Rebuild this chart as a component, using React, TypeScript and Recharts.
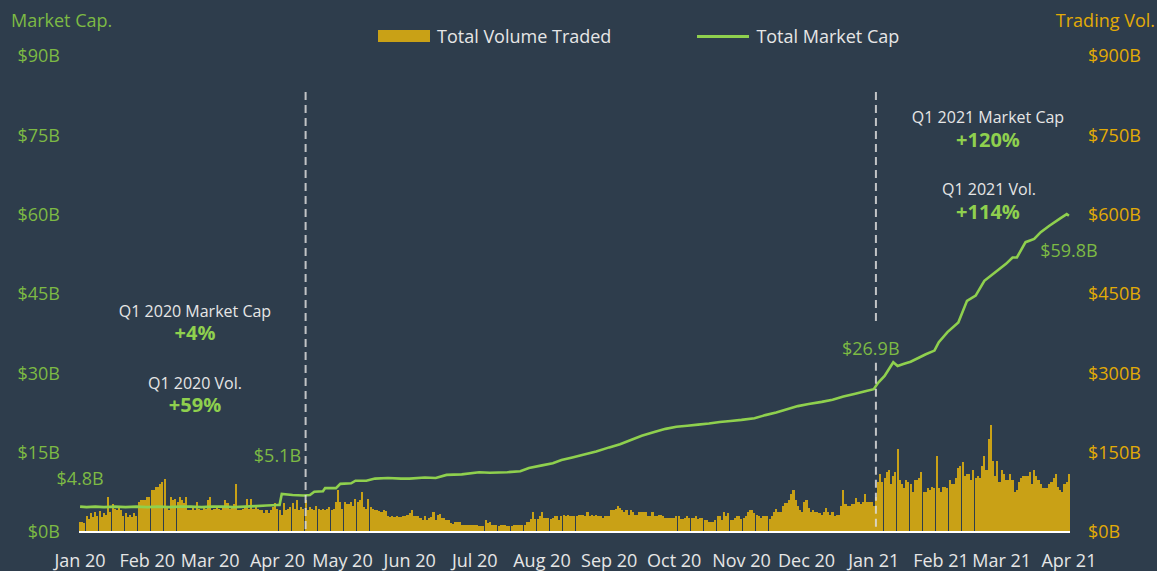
import React from 'react'
import {
  ComposedChart, Bar, Line, XAxis, YAxis, Legend, ReferenceLine, ReferenceDot,
} from 'recharts'

// daily traded volume, $B (right axis)
const volJan20 = [19, 19, 17, 30, 25, 35, 28, 38, 30, 40, 28, 35, 33, 67, 38, 52, 44, 41, 47, 42, 30, 35, 28, 33, 28, 35, 30, 57, 60, 61, 61]
const volFeb20 = [67, 66, 79, 80, 86, 86, 90, 94, 101, 47, 41, 67, 60, 63, 57, 67, 60, 54, 67, 41, 41, 47, 41, 57, 44, 41, 49, 44, 60]
const volMar20 = [67, 41, 44, 47, 44, 41, 47, 60, 54, 44, 47, 52, 91, 41, 41, 44, 47, 63, 44, 63, 44, 47, 44, 41, 41, 35, 41, 35, 41, 47, 54]
const volApr20 = [44, 41, 32, 54, 41, 44, 47, 54, 44, 60, 41, 47, 44, 60, 41, 47, 44, 41, 49, 44, 41, 44, 41, 44, 47, 41, 44, 57, 79, 57]
const volMay20 = [44, 57, 52, 52, 57, 50, 63, 57, 60, 76, 47, 44, 63, 47, 44, 41, 41, 40, 38, 41, 40, 30, 28, 30, 28, 30, 28, 28, 30, 30, 33]
const volJun20 = [36, 41, 31, 31, 30, 26, 23, 31, 23, 26, 29, 37, 23, 32, 34, 26, 27, 22, 22, 17, 16, 19, 19, 19, 14, 14, 14, 14, 14, 14]
const volJul20 = [14, 14, 11, 11, 11, 22, 17, 19, 14, 14, 14, 11, 14, 14, 14, 11, 11, 11, 14, 14, 14, 14, 14, 14, 19, 19, 25, 38, 25, 25, 30]
const volAug20 = [38, 27, 27, 27, 25, 27, 30, 30, 23, 30, 33, 30, 33, 30, 30, 30, 30, 33, 33, 33, 30, 38, 30, 33, 30, 33, 30, 30, 27, 30, 30]
const volSep20 = [30, 42, 42, 44, 49, 46, 42, 38, 41, 33, 41, 38, 33, 33, 38, 38, 38, 38, 30, 30, 38, 30, 30, 33, 33, 30, 27, 27, 27, 27]
const volOct20 = [27, 30, 30, 25, 25, 27, 30, 27, 27, 27, 30, 25, 27, 27, 23, 23, 19, 19, 19, 23, 30, 30, 23, 38, 30, 35, 23, 23, 27, 30, 30]
const volNov20 = [25, 27, 30, 38, 41, 41, 35, 33, 30, 27, 30, 30, 30, 25, 30, 38, 44, 38, 38, 50, 55, 55, 60, 71, 79, 60, 49, 41, 38, 57]
const volDec20 = [60, 46, 38, 41, 38, 38, 35, 32, 38, 46, 38, 33, 38, 30, 33, 33, 49, 79, 52, 49, 49, 52, 52, 64, 57, 52, 57, 71, 57, 57, 57]
const volJan21 = [49, 67, 95, 109, 95, 102, 113, 118, 91, 105, 113, 156, 98, 91, 84, 98, 95, 91, 76, 98, 98, 102, 113, 76, 76, 84, 80, 86, 84, 143, 84]
const volFeb21 = [76, 86, 86, 84, 98, 91, 91, 102, 121, 124, 132, 105, 109, 109, 98, 117, 102, 105, 102, 124, 143, 118, 176, 203, 135, 105, 135, 95]
const volMar21 = [117, 109, 98, 98, 109, 98, 76, 79, 95, 102, 105, 105, 105, 113, 91, 117, 105, 98, 90, 84, 84, 84, 91, 95, 102, 109, 86, 80, 76, 91, 95]
const volApr21 = [109]

const months: [string, number[]][] = [
  ['2020-01', volJan20], ['2020-02', volFeb20], ['2020-03', volMar20], ['2020-04', volApr20],
  ['2020-05', volMay20], ['2020-06', volJun20], ['2020-07', volJul20], ['2020-08', volAug20],
  ['2020-09', volSep20], ['2020-10', volOct20], ['2020-11', volNov20], ['2020-12', volDec20],
  ['2021-01', volJan21], ['2021-02', volFeb21], ['2021-03', volMar21], ['2021-04', volApr21],
]

// total market cap, $B (left axis)
const capPoints: [string, number][] = [
  ['2020-01-01', 4.8], ['2020-01-04', 4.7], ['2020-01-08', 4.8], ['2020-01-12', 4.7], ['2020-01-17', 4.8],
  ['2020-01-22', 4.7], ['2020-01-27', 4.8], ['2020-02-01', 4.7], ['2020-02-06', 4.8], ['2020-02-11', 4.7],
  ['2020-02-16', 4.8], ['2020-02-21', 4.8], ['2020-02-26', 4.7], ['2020-03-02', 4.8], ['2020-03-07', 4.8],
  ['2020-03-12', 4.7], ['2020-03-17', 4.8], ['2020-03-22', 4.9], ['2020-03-27', 5.0], ['2020-04-01', 5.1],
  ['2020-04-02', 5.1], ['2020-04-03', 7.2], ['2020-04-08', 7.0], ['2020-04-13', 6.9], ['2020-04-16', 7.0],
  ['2020-04-18', 7.6], ['2020-04-22', 7.7], ['2020-04-23', 8.3], ['2020-04-28', 8.3], ['2020-04-30', 9.1],
  ['2020-05-05', 9.2], ['2020-05-07', 9.7], ['2020-05-12', 9.7], ['2020-05-16', 10.1], ['2020-05-22', 10.2],
  ['2020-05-28', 10.1], ['2020-06-01', 10.1], ['2020-06-08', 10.3], ['2020-06-13', 10.2], ['2020-06-18', 10.8],
  ['2020-06-25', 10.9], ['2020-07-03', 11.3], ['2020-07-08', 11.2], ['2020-07-16', 11.3], ['2020-07-22', 11.5],
  ['2020-07-26', 12.1], ['2020-08-01', 12.6], ['2020-08-06', 13.0], ['2020-08-10', 13.6], ['2020-08-15', 14.1],
  ['2020-08-20', 14.6], ['2020-08-26', 15.2], ['2020-09-01', 16.0], ['2020-09-06', 16.6], ['2020-09-11', 17.4],
  ['2020-09-16', 18.2], ['2020-09-21', 18.8], ['2020-09-27', 19.5], ['2020-10-02', 19.9], ['2020-10-07', 20.1],
  ['2020-10-12', 20.3], ['2020-10-17', 20.5], ['2020-10-22', 20.8], ['2020-10-27', 21.0], ['2020-11-01', 21.2],
  ['2020-11-07', 21.5], ['2020-11-12', 22.1], ['2020-11-17', 22.6], ['2020-11-22', 23.2], ['2020-11-27', 23.8],
  ['2020-12-02', 24.2], ['2020-12-08', 24.6], ['2020-12-13', 25.0], ['2020-12-18', 25.6], ['2020-12-23', 26.1],
  ['2020-12-29', 26.7], ['2021-01-01', 27.0], ['2021-01-03', 28.2], ['2021-01-06', 29.5], ['2021-01-10', 32.1],
  ['2021-01-12', 31.4], ['2021-01-15', 31.8], ['2021-01-18', 32.2], ['2021-01-22', 33.0], ['2021-01-25', 33.6],
  ['2021-01-29', 34.3], ['2021-01-31', 35.9], ['2021-02-04', 37.8], ['2021-02-09', 39.6], ['2021-02-13', 43.7],
  ['2021-02-17', 44.7], ['2021-02-21', 47.5], ['2021-02-25', 48.8], ['2021-03-03', 50.7], ['2021-03-06', 51.9],
  ['2021-03-08', 51.9], ['2021-03-12', 54.8], ['2021-03-16', 55.4], ['2021-03-19', 56.7], ['2021-03-23', 57.9],
  ['2021-03-28', 59.3], ['2021-03-31', 60.1], ['2021-04-01', 59.8],
]

const capTicks = [0, 15, 30, 45, 60, 75, 90]
const volTicks = [0, 150, 300, 450, 600, 750, 900]
const monthNames = ['Jan', 'Feb', 'Mar', 'Apr', 'May', 'Jun', 'Jul', 'Aug', 'Sep', 'Oct', 'Nov', 'Dec']

const BG = '#2e3d4c'
const BAR = '#c9a116'
const LINE = '#8fd04e'
const GREEN = '#7dba44'
const GOLD = '#e3ab06'
const TEXT = '#e6e6e6'
const FONT = '"Open Sans", sans-serif'

const capMap = new Map(capPoints)
const rows = months.flatMap(([m, vols]) =>
  vols.map((v, i) => {
    const date = `${m}-${String(i + 1).padStart(2, '0')}`
    return { date, vol: v, cap: capMap.get(date) }
  })
)
const monthTicks = months.map(([m]) => `${m}-01`)
const fmtMonth = (d: string) => `${monthNames[+d.slice(5, 7) - 1]} ${d.slice(2, 4)}`

const ValueLabel = ({ viewBox, text, dx = 0, dy = 0 }: any) => {
  const cx = viewBox.x + viewBox.width / 2
  const cy = viewBox.y + viewBox.height / 2
  return (
    <text x={cx + dx} y={cy + dy} textAnchor="middle" fill={GREEN} fontSize={18} fontFamily={FONT}>
      {text}
    </text>
  )
}

const renderLegend = () => (
  <div style={{ display: 'flex', alignItems: 'center', fontSize: 18, color: TEXT, fontFamily: FONT, whiteSpace: 'nowrap' }}>
    <span style={{ display: 'inline-block', width: 52, height: 12, background: BAR }} />
    <span style={{ marginLeft: 7 }}>Total Volume Traded</span>
    <span style={{ display: 'inline-block', width: 52, height: 3, background: LINE, marginLeft: 86 }} />
    <span style={{ marginLeft: 7 }}>Total Market Cap</span>
  </div>
)

const dash = { stroke: '#dcdcdc', strokeDasharray: '8 5', strokeWidth: 2, strokeOpacity: 0.85 }

export default function App() {
  return (
    <div style={{ position: 'absolute', left: 0, top: 0, width: 1157, height: 571, background: BG, fontFamily: FONT }}>
      <ComposedChart width={1157} height={571} data={rows} margin={{ top: 56, right: 0, bottom: 0, left: 0 }}
        barCategoryGap={0} barGap={0}>
        <XAxis dataKey="date" ticks={monthTicks} interval={0} tickFormatter={fmtMonth}
          axisLine={{ stroke: '#ffffff', strokeWidth: 2 }} tickLine={false} tickSize={0} tickMargin={22}
          height={39} tick={{ fill: TEXT, fontSize: 18, fontFamily: FONT }} />
        <YAxis yAxisId="cap" orientation="left" domain={[0, 90]} ticks={capTicks} width={79}
          axisLine={false} tickLine={false} tickSize={0} tickMargin={19}
          tickFormatter={(v) => `$${v}B`} tick={{ fill: GREEN, fontSize: 18, fontFamily: FONT }} />
        <YAxis yAxisId="vol" orientation="right" domain={[0, 900]} ticks={volTicks} width={87}
          axisLine={false} tickLine={false} tickSize={0} tickMargin={18}
          tickFormatter={(v) => `$${v}B`} tick={{ fill: GOLD, fontSize: 18, fontFamily: FONT, textAnchor: 'start' }} />
        <Legend verticalAlign="middle" content={renderLegend}
          wrapperStyle={{ top: 24, left: 378, width: 'auto', height: 'auto' }} />
        <Bar yAxisId="vol" dataKey="vol" fill={BAR} barSize={2.08} shapeRendering="crispEdges" isAnimationActive={false} />
        <Line yAxisId="cap" dataKey="cap" type="linear" stroke={LINE} strokeWidth={2.6} dot={false}
          connectNulls isAnimationActive={false} />
        <ReferenceLine yAxisId="cap" segment={[{ x: '2020-04-14', y: 83.2 }, { x: '2020-04-14', y: 0 }]} {...dash} />
        <ReferenceLine yAxisId="cap" segment={[{ x: '2021-01-02', y: 83.2 }, { x: '2021-01-02', y: 39.5 }]} {...dash} />
        <ReferenceLine yAxisId="cap" segment={[{ x: '2021-01-02', y: 32.0 }, { x: '2021-01-02', y: 0 }]} {...dash} />
        <ReferenceDot yAxisId="cap" x="2020-01-01" y={4.8} r={1} fill="none" stroke="none"
          label={<ValueLabel text="$4.8B" dy={-22} />} />
        <ReferenceDot yAxisId="cap" x="2020-04-01" y={5.1} r={1} fill="none" stroke="none"
          label={<ValueLabel text="$5.1B" dy={-43.5} />} />
        <ReferenceDot yAxisId="cap" x="2021-01-01" y={27.0} r={1} fill="none" stroke="none"
          label={<ValueLabel text="$26.9B" dx={-3} dy={-34} />} />
        <ReferenceDot yAxisId="cap" x="2021-04-01" y={59.8} r={1} fill="none" stroke="none"
          label={<ValueLabel text="$59.8B" dy={41} />} />
      </ComposedChart>
      <svg width={1157} height={571} style={{ position: 'absolute', left: 0, top: 0, pointerEvents: 'none' }}
        fontFamily={FONT}>
        <text x={11} y={26.5} fill={GREEN} fontSize={18}>Market Cap.</text>
        <text x={1155} y={26.5} fill={GOLD} fontSize={18} textAnchor="end">Trading Vol.</text>
        <g textAnchor="middle">
          <text x={195} y={316.5} fill={TEXT} fontSize={16}>Q1 2020 Market Cap</text>
          <text x={195} y={340} fill={LINE} fontSize={20} fontWeight="bold">+4%</text>
          <text x={195} y={388.5} fill={TEXT} fontSize={16}>Q1 2020 Vol.</text>
          <text x={195} y={412} fill={LINE} fontSize={20} fontWeight="bold">+59%</text>
          <text x={988} y={123} fill={TEXT} fontSize={16}>Q1 2021 Market Cap</text>
          <text x={988} y={147} fill={LINE} fontSize={20} fontWeight="bold">+120%</text>
          <text x={989} y={195} fill={TEXT} fontSize={16}>Q1 2021 Vol.</text>
          <text x={988} y={219} fill={LINE} fontSize={20} fontWeight="bold">+114%</text>
        </g>
      </svg>
    </div>
  )
}
